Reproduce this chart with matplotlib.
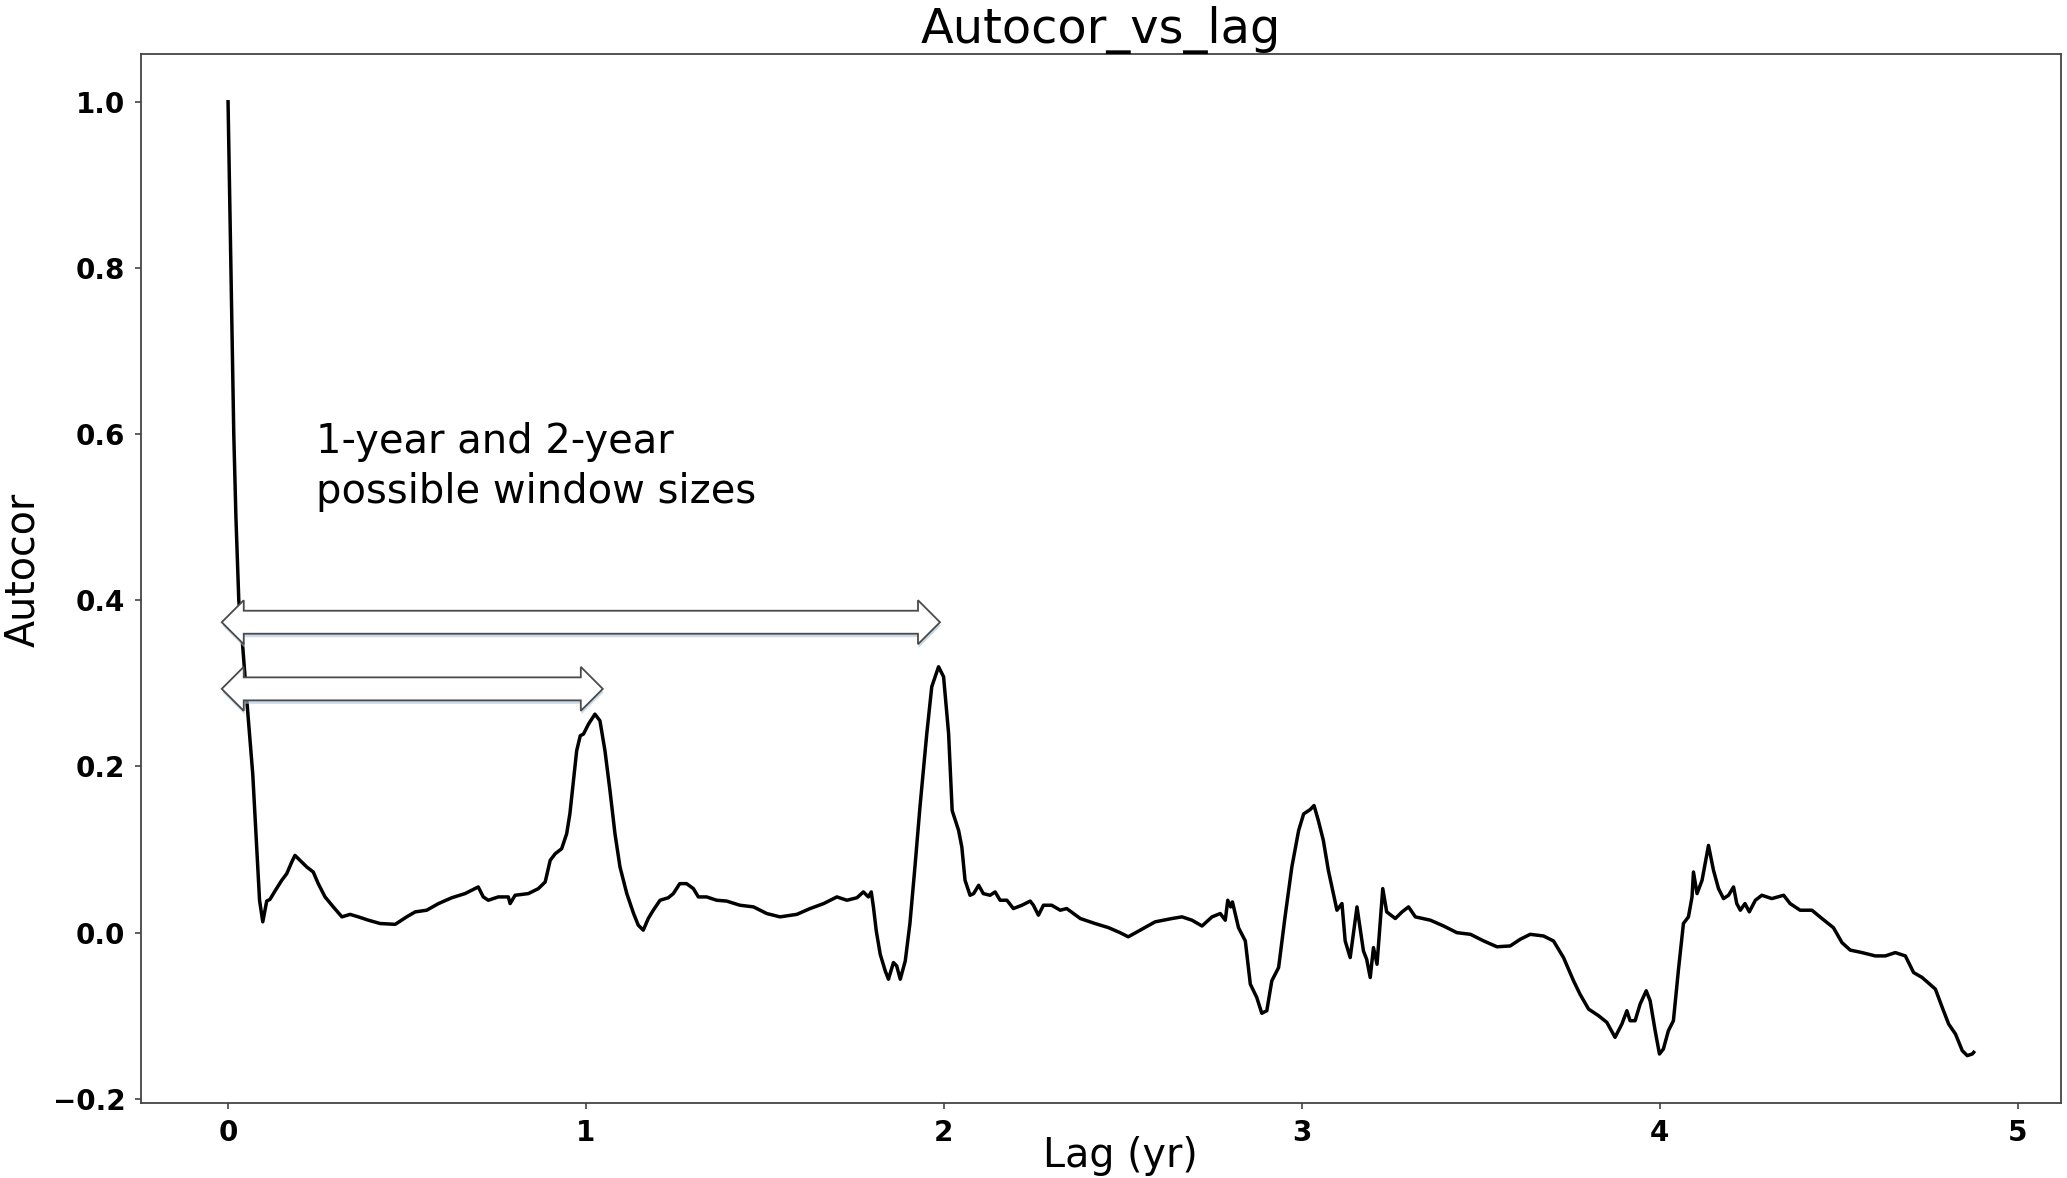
import matplotlib.pyplot as plt
from matplotlib.patches import Polygon
import matplotlib.patheffects as pe

# autocorrelation
lag_yr = [0.000, 0.004, 0.008, 0.012, 0.016, 0.022, 0.030, 0.040, 0.054, 0.069,
          0.079, 0.088, 0.097, 0.108, 0.117, 0.131, 0.150, 0.164, 0.178, 0.187,
          0.201, 0.220, 0.238, 0.252, 0.271, 0.294, 0.318, 0.341, 0.364, 0.392,
          0.425, 0.467, 0.499, 0.523, 0.555, 0.588, 0.625, 0.662, 0.699, 0.713,
          0.727, 0.755, 0.783, 0.788, 0.802, 0.839, 0.867, 0.886, 0.900, 0.914,
          0.932, 0.946, 0.955, 0.965, 0.974, 0.984, 0.993, 1.007, 1.025, 1.039,
          1.053, 1.067, 1.081, 1.095, 1.114, 1.133, 1.146, 1.160, 1.174, 1.188,
          1.207, 1.230, 1.244, 1.262, 1.281, 1.300, 1.314, 1.337, 1.365, 1.393,
          1.430, 1.468, 1.505, 1.542, 1.589, 1.626, 1.664, 1.701, 1.729, 1.757,
          1.775, 1.789, 1.797, 1.803, 1.811, 1.822, 1.836, 1.845, 1.859, 1.868,
          1.878, 1.892, 1.905, 1.919, 1.933, 1.952, 1.966, 1.985, 1.999, 2.013,
          2.023, 2.041, 2.050, 2.059, 2.073, 2.083, 2.097, 2.110, 2.129, 2.143,
          2.157, 2.176, 2.194, 2.218, 2.241, 2.250, 2.264, 2.278, 2.301, 2.325,
          2.343, 2.381, 2.422, 2.460, 2.492, 2.515, 2.544, 2.590, 2.637, 2.665,
          2.693, 2.721, 2.749, 2.772, 2.786, 2.793, 2.801, 2.806, 2.823, 2.842,
          2.856, 2.874, 2.888, 2.902, 2.916, 2.935, 2.953, 2.972, 2.991, 3.005,
          3.023, 3.034, 3.046, 3.060, 3.074, 3.088, 3.098, 3.112, 3.121, 3.135,
          3.154, 3.172, 3.181, 3.191, 3.200, 3.210, 3.226, 3.237, 3.261, 3.280,
          3.298, 3.317, 3.359, 3.396, 3.433, 3.471, 3.508, 3.545, 3.582, 3.610,
          3.638, 3.675, 3.703, 3.731, 3.759, 3.777, 3.801, 3.829, 3.852, 3.875,
          3.894, 3.908, 3.917, 3.931, 3.945, 3.962, 3.973, 3.987, 3.999, 4.010,
          4.024, 4.038, 4.052, 4.066, 4.080, 4.090, 4.094, 4.104, 4.118, 4.136,
          4.150, 4.164, 4.178, 4.192, 4.206, 4.215, 4.225, 4.238, 4.250, 4.267,
          4.285, 4.313, 4.346, 4.364, 4.392, 4.425, 4.453, 4.485, 4.509, 4.532,
          4.565, 4.602, 4.630, 4.658, 4.686, 4.709, 4.733, 4.770, 4.789, 4.807,
          4.826, 4.845, 4.859, 4.873, 4.877]
autocor = [1.000, 0.900, 0.800, 0.700, 0.600, 0.500, 0.400, 0.350, 0.271, 0.191,
           0.111, 0.039, 0.013, 0.038, 0.040, 0.050, 0.063, 0.071, 0.085, 0.093,
           0.087, 0.079, 0.073, 0.059, 0.043, 0.031, 0.019, 0.022, 0.019, 0.015,
           0.011, 0.010, 0.019, 0.025, 0.027, 0.035, 0.042, 0.047, 0.055, 0.043,
           0.039, 0.043, 0.043, 0.035, 0.045, 0.047, 0.053, 0.061, 0.087, 0.095,
           0.101, 0.119, 0.143, 0.183, 0.219, 0.237, 0.239, 0.251, 0.263, 0.255,
           0.219, 0.171, 0.119, 0.079, 0.047, 0.023, 0.009, 0.003, 0.017, 0.027,
           0.039, 0.042, 0.047, 0.059, 0.059, 0.053, 0.043, 0.043, 0.039, 0.038,
           0.033, 0.031, 0.023, 0.019, 0.022, 0.029, 0.035, 0.043, 0.039, 0.042,
           0.049, 0.043, 0.049, 0.031, 0.002, -0.026, -0.046, -0.056, -0.036, -0.040,
           -0.056, -0.034, 0.011, 0.079, 0.151, 0.239, 0.296, 0.320, 0.308, 0.240,
           0.147, 0.123, 0.103, 0.063, 0.045, 0.047, 0.057, 0.047, 0.045, 0.049,
           0.039, 0.039, 0.029, 0.033, 0.038, 0.033, 0.021, 0.033, 0.033, 0.027,
           0.029, 0.017, 0.011, 0.006, 0.000, -0.005, 0.002, 0.013, 0.017, 0.019,
           0.015, 0.008, 0.019, 0.023, 0.015, 0.039, 0.031, 0.037, 0.006, -0.010,
           -0.062, -0.078, -0.097, -0.094, -0.058, -0.042, 0.019, 0.079, 0.123, 0.143,
           0.148, 0.153, 0.135, 0.111, 0.075, 0.047, 0.027, 0.035, -0.010, -0.030,
           0.031, -0.022, -0.032, -0.054, -0.018, -0.038, 0.053, 0.025, 0.017, 0.025,
           0.031, 0.019, 0.015, 0.008, 0.000, -0.002, -0.010, -0.017, -0.016, -0.008,
           -0.002, -0.004, -0.010, -0.030, -0.058, -0.074, -0.092, -0.100, -0.108, -0.126,
           -0.110, -0.094, -0.106, -0.106, -0.086, -0.070, -0.082, -0.118, -0.146, -0.140,
           -0.118, -0.106, -0.045, 0.011, 0.019, 0.043, 0.073, 0.047, 0.063, 0.105,
           0.075, 0.053, 0.041, 0.045, 0.055, 0.035, 0.027, 0.035, 0.025, 0.039,
           0.045, 0.041, 0.045, 0.035, 0.027, 0.027, 0.017, 0.006, -0.012, -0.021,
           -0.024, -0.028, -0.028, -0.024, -0.028, -0.048, -0.054, -0.068, -0.090, -0.110,
           -0.122, -0.142, -0.148, -0.146, -0.144]

x_ticks = [0, 1, 2, 3, 4, 5]
y_ticks = [-0.2, 0.0, 0.2, 0.4, 0.6, 0.8, 1.0]

note_text = "1-year and 2-year\npossible window sizes"
note_xy = (0.246, 0.614)

# window arrows: left tip, right tip, centre height (data units)
arrow_left = [-0.0176, -0.0176]
arrow_right = [1.047, 1.989]
arrow_y = [0.2934, 0.3736]


def block_darrow(ax, x0, x1, y, head_px=22.0, half_head_px=22.0, half_body_px=11.5):
    # turn pixel sizes into data units so the head keeps its shape
    p0 = ax.transData.transform((0, 0))
    p1 = ax.transData.transform((1, 1))
    L = head_px / (p1[0] - p0[0])
    H = half_head_px / (p1[1] - p0[1])
    B = half_body_px / (p1[1] - p0[1])
    verts = [(x0, y), (x0 + L, y + H), (x0 + L, y + B), (x1 - L, y + B),
             (x1 - L, y + H), (x1, y), (x1 - L, y - H), (x1 - L, y - B),
             (x0 + L, y - B), (x0 + L, y - H)]
    poly = Polygon(verts, closed=True, facecolor='white', edgecolor='#4a4a4a',
                   linewidth=1.3, zorder=3, joinstyle='miter',
                   path_effects=[pe.SimplePatchShadow(offset=(0.5, -2.5),
                                                      shadow_rgbFace='#a9c4dc', alpha=0.6),
                                 pe.Normal()])
    ax.add_patch(poly)


fig = plt.figure(figsize=(20.67, 11.78), dpi=100)
ax = fig.add_axes([0.0681, 0.0634, 0.9290, 0.8907])

ax.plot(lag_yr, autocor, color='black', linewidth=2.5, zorder=2)

ax.set_xticks(x_ticks)
ax.set_yticks(y_ticks)
ax.get_xlim()
ax.get_ylim()

for spine in ax.spines.values():
    spine.set_color('#444444')
    spine.set_linewidth(1.3)
ax.tick_params(labelsize=20, width=1.2, length=4, color='#444444', pad=7)
for lbl in ax.get_xticklabels() + ax.get_yticklabels():
    lbl.set_fontweight('bold')

ax.set_title('Autocor_vs_lag', fontsize=34.5, pad=7)
ax.set_xlabel('Lag (yr)', fontsize=28.5)
ax.set_ylabel('Autocor', fontsize=28.5)
ax.xaxis.set_label_coords(0.51, -0.031)
ax.yaxis.set_label_coords(-0.0506, 0.5086)

for x0, x1, y in zip(arrow_left, arrow_right, arrow_y):
    block_darrow(ax, x0, x1, y)

ax.text(note_xy[0], note_xy[1], note_text, fontsize=28.8, va='top', ha='left',
        linespacing=1.3)

fig.savefig('out.png', dpi=100)
